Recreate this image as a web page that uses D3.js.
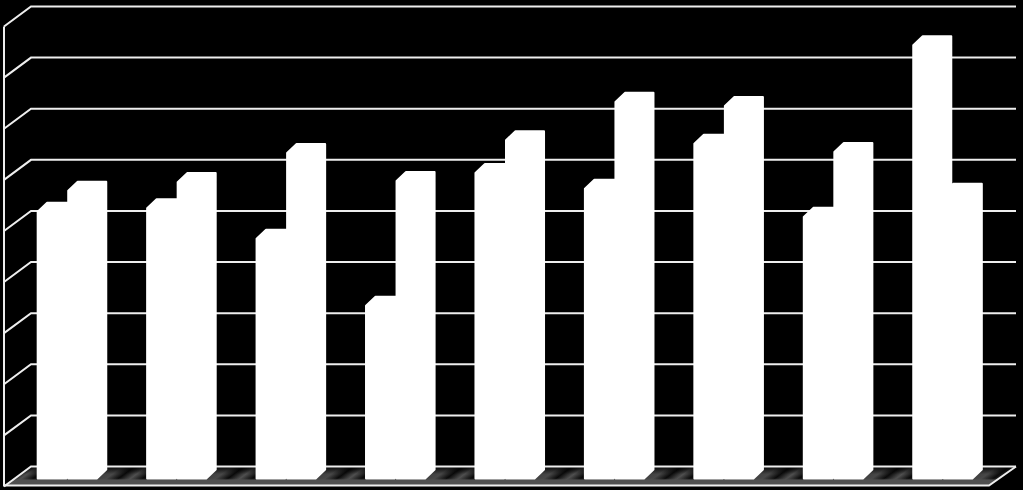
<!DOCTYPE html>
<html>
<head>
<style>
    html, body { margin: 0; background: #000; }
    svg { display: block; }
</style>
</head>
<body>
<svg id="chart" width="1023" height="490"></svg>
<script src="https://d3js.org/d3.v7.min.js"></script>
<script>
    // values, the original has no labels
    const categories = ["1", "2", "3", "4", "5", "6", "7", "8", "9"]
    const seriesNames = ["a", "b"]
    const seriesA = [5.17, 5.24, 4.64, 3.33, 5.93, 5.62, 6.50, 5.07, 8.43]
    const seriesB = [5.58, 5.75, 6.32, 5.77, 6.57, 7.32, 7.24, 6.34, 5.54]
    const ticks = [0, 1, 2, 3, 4, 5, 6, 7, 8, 9]

    const svg = d3.select("#chart")

    // depth of the 3d box and of the bars
    const wallDx = 27, wallDy = 20
    const barDx = 9.5, barDy = 9
    const left = 4, right = 989, base = 485.5

    const y = d3.scaleLinear().domain([0, 9]).range([466.5, 6.5])
    const x0 = d3.scaleBand().domain(categories).range([left + 8.5, right + 8.5]).paddingInner(0.442).paddingOuter(0.221)
    const x1 = d3.scaleBand().domain(seriesNames).range([0, x0.bandwidth()])

    // floor shading repeats once per group, running along the floor's diagonal
    const defs = svg.append("defs")
    const floorGrad = defs.append("linearGradient").attr("id", "floorGrad")
        .attr("gradientUnits", "userSpaceOnUse")
        .attr("x1", 36.6).attr("y1", 476)
        .attr("x2", 36.6 + 38.7).attr("y2", 476 + 52.3)
        .attr("spreadMethod", "repeat")
    const floorStops = [[0, "#0a0a0a"], [0.67, "#484848"], [0.78, "#0a0a0a"], [0.89, "#505050"], [1, "#0a0a0a"]]
    floorGrad.selectAll("stop")
        .data(floorStops)
        .join("stop")
        .attr("offset", d => d[0])
        .attr("stop-color", d => d[1])

    // fades the floor to black at the back and to flat grey at the front
    const fadeGrad = defs.append("linearGradient").attr("id", "fadeGrad")
        .attr("x1", 0).attr("x2", 0).attr("y1", 0).attr("y2", 1)
    const fadeStops = [[0, "#000", 0.9], [0.4, "#000", 0], [0.62, "#505050", 0], [0.72, "#505050", 1], [1, "#505050", 1]]
    fadeGrad.selectAll("stop")
        .data(fadeStops)
        .join("stop")
        .attr("offset", d => d[0])
        .attr("stop-color", d => d[1])
        .attr("stop-opacity", d => d[2])

    const floorPath = `M${left},${base}L${left + wallDx},${y(0)}H${right + wallDx}L${right},${base}Z`
    svg.append("path").attr("d", floorPath).attr("fill", "url(#floorGrad)")
    svg.append("path").attr("d", floorPath).attr("fill", "url(#fadeGrad)")

    // back wall grid lines with their part on the left wall
    svg.append("g").selectAll("path")
        .data(ticks)
        .join("path")
        .attr("d", d => `M${left},${y(d) + wallDy}L${left + wallDx},${y(d)}H${right + wallDx}`)
        .attr("fill", "none")
        .attr("stroke", "#eee")
        .attr("stroke-width", 2)

    // left wall and front edge of the floor
    svg.append("path")
        .attr("d", `M${left},${y(9) + wallDy}V${base}H${right}L${right + wallDx},${y(0)}`)
        .attr("fill", "none")
        .attr("stroke", "#eee")
        .attr("stroke-width", 2)

    const rows = categories.flatMap((c, i) => [
        { cat: c, s: "a", v: seriesA[i] },
        { cat: c, s: "b", v: seriesB[i] }
    ])

    // every bar is one outline: front, top and side faces are all white
    // the outline is inset by 1 so the 2px round stroke softens the corners
    function barPath(d) {
        const xl = x0(d.cat) + x1(d.s) + 1
        const xr = xl + x1.bandwidth() - 2
        const top = y(d.v) + 0.5
        const bottom = y(0) + 12
        return `M${xl},${bottom}V${top + barDy}L${xl + barDx},${top}H${xr + barDx}V${bottom - barDy}L${xr},${bottom}Z`
    }

    svg.append("g").selectAll("path")
        .data(rows)
        .join("path")
        .attr("d", barPath)
        .attr("fill", "#fff")
        .attr("stroke", "#fff")
        .attr("stroke-width", 2)
        .attr("stroke-linejoin", "round")
</script>
</body>
</html>
